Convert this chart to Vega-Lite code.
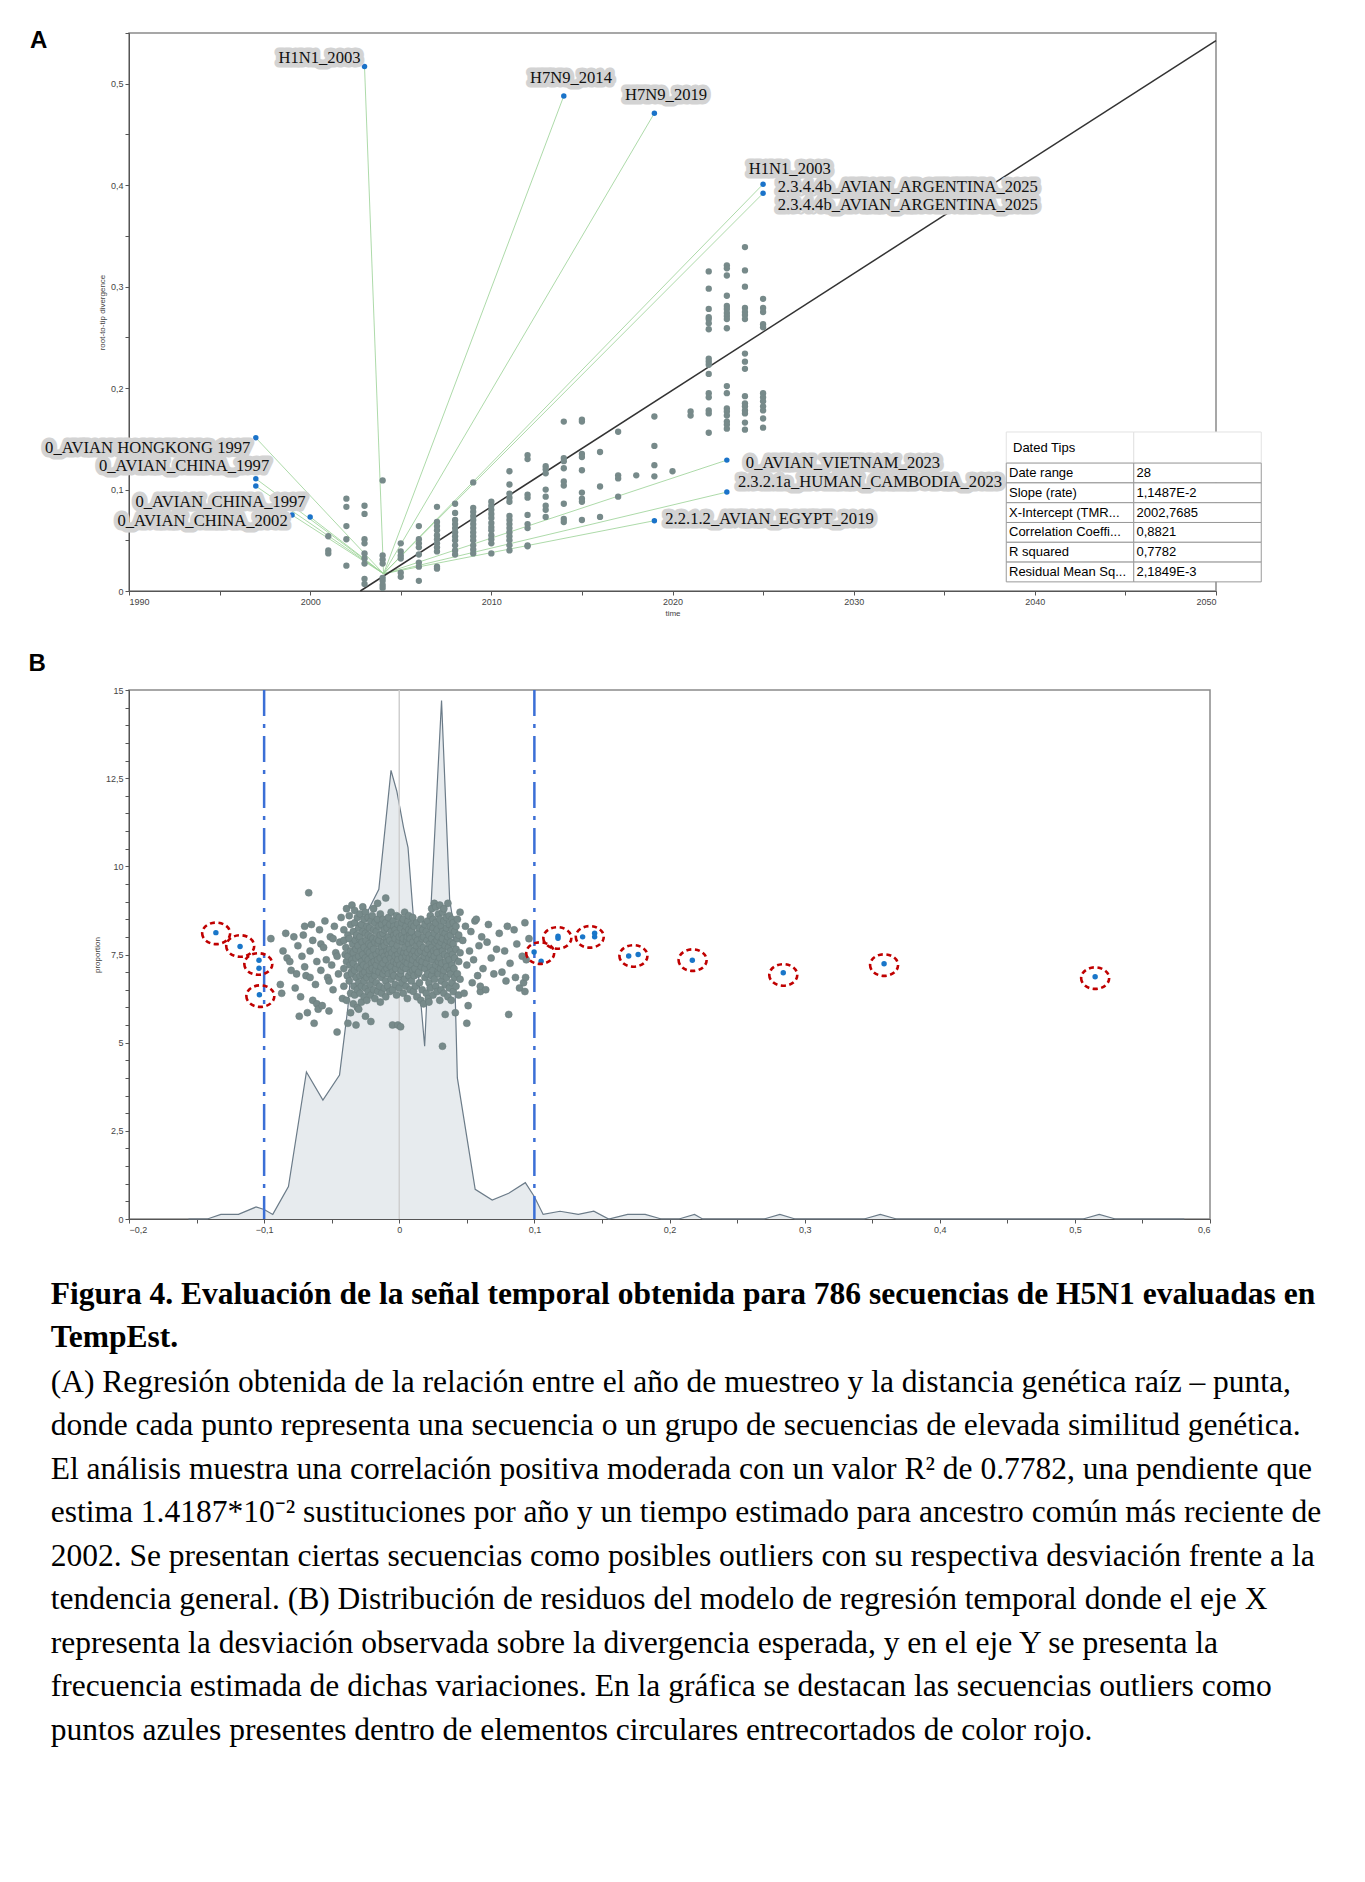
{
  "$schema": "https://vega.github.io/schema/vega-lite/v6.json",
  "background": "white",
  "padding": {"left": 27, "top": 28, "right": 5, "bottom": 5},
  "spacing": 33,
  "config": {
    "view": {"stroke": "#8a8a8a", "strokeWidth": 1.5},
    "axis": {"labelFont": "Liberation Sans", "labelFontSize": 9, "labelColor": "#444", "titleFont": "Liberation Sans", "titleFontSize": 8, "titleFontWeight": "normal", "titleColor": "#444", "tickColor": "#555", "domainColor": "#555", "grid": false, "tickSize": 4, "labelPadding": 2, "labelOverlap": false}
  },
  "title": {
    "text": ["Figura 4. Evaluación de la señal temporal obtenida para 786 secuencias de H5N1 evaluadas en", "TempEst."],
    "subtitle": [
      "(A) Regresión obtenida de la relación entre el año de muestreo y la distancia genética raíz – punta,",
      "donde cada punto representa una secuencia o un grupo de secuencias de elevada similitud genética.",
      "El análisis muestra una correlación positiva moderada con un valor R² de 0.7782, una pendiente que",
      "estima 1.4187*10⁻² sustituciones por año y un tiempo estimado para ancestro común más reciente de",
      "2002. Se presentan ciertas secuencias como posibles outliers con su respectiva desviación frente a la",
      "tendencia general. (B) Distribución de residuos del modelo de regresión temporal donde el eje X",
      "representa la desviación observada sobre la divergencia esperada, y en el eje Y se presenta la",
      "frecuencia estimada de dichas variaciones. En la gráfica se destacan las secuencias outliers como",
      "puntos azules presentes dentro de elementos circulares entrecortados de color rojo."
    ],
    "orient": "bottom", "anchor": "start", "frame": "bounds",
    "font": "Liberation Serif", "fontSize": 31.5, "fontWeight": "bold", "color": "black", "lineHeight": 43.5,
    "subtitleFont": "Liberation Serif", "subtitleFontSize": 31.5, "subtitleFontWeight": "normal", "subtitleColor": "black", "subtitleLineHeight": 43.5, "subtitlePadding": 13,
    "offset": 44, "dx": 23
  },
  "datasets": {
    "ptsA": [
      {"year":2001,"div":0.054},{"year":2001,"div":0.040},{"year":2001,"div":0.037},
      {"year":2002,"div":0.091},{"year":2002,"div":0.083},{"year":2002,"div":0.064},{"year":2002,"div":0.051},{"year":2002,"div":0.025},
      {"year":2003,"div":0.084},{"year":2003,"div":0.076},{"year":2003,"div":0.051},{"year":2003,"div":0.047},{"year":2003,"div":0.037},{"year":2003,"div":0.032},{"year":2003,"div":0.027},{"year":2003,"div":0.012},{"year":2003,"div":0.007},
      {"year":2004,"div":0.109},{"year":2004,"div":0.035},{"year":2004,"div":0.031},{"year":2004,"div":0.027},{"year":2004,"div":0.013},{"year":2004,"div":0.010},{"year":2004,"div":0.006},{"year":2004,"div":0.003},
      {"year":2005,"div":0.047},{"year":2005,"div":0.039},{"year":2005,"div":0.035},{"year":2005,"div":0.032},{"year":2005,"div":0.018},{"year":2005,"div":0.014},
      {"year":2006,"div":0.064},{"year":2006,"div":0.051},{"year":2006,"div":0.047},{"year":2006,"div":0.043},{"year":2006,"div":0.036},{"year":2006,"div":0.028},{"year":2006,"div":0.024},{"year":2006,"div":0.010},
      {"year":2007,"div":0.083},{"year":2007,"div":0.068},{"year":2007,"div":0.064},{"year":2007,"div":0.060},{"year":2007,"div":0.055},{"year":2007,"div":0.051},{"year":2007,"div":0.047},{"year":2007,"div":0.043},{"year":2007,"div":0.039},{"year":2007,"div":0.024},{"year":2007,"div":0.022},
      {"year":2008,"div":0.086},{"year":2008,"div":0.077},{"year":2008,"div":0.070},{"year":2008,"div":0.066},{"year":2008,"div":0.062},{"year":2008,"div":0.058},{"year":2008,"div":0.054},{"year":2008,"div":0.050},{"year":2008,"div":0.045},{"year":2008,"div":0.040},{"year":2008,"div":0.036},
      {"year":2009,"div":0.107},{"year":2009,"div":0.082},{"year":2009,"div":0.078},{"year":2009,"div":0.074},{"year":2009,"div":0.070},{"year":2009,"div":0.066},{"year":2009,"div":0.062},{"year":2009,"div":0.058},{"year":2009,"div":0.054},{"year":2009,"div":0.050},{"year":2009,"div":0.045},{"year":2009,"div":0.041},{"year":2009,"div":0.037},
      {"year":2010,"div":0.088},{"year":2010,"div":0.084},{"year":2010,"div":0.080},{"year":2010,"div":0.076},{"year":2010,"div":0.072},{"year":2010,"div":0.067},{"year":2010,"div":0.063},{"year":2010,"div":0.060},{"year":2010,"div":0.055},{"year":2010,"div":0.051},{"year":2010,"div":0.047},{"year":2010,"div":0.037},
      {"year":2011,"div":0.118},{"year":2011,"div":0.105},{"year":2011,"div":0.096},{"year":2011,"div":0.092},{"year":2011,"div":0.088},{"year":2011,"div":0.074},{"year":2011,"div":0.070},{"year":2011,"div":0.066},{"year":2011,"div":0.062},{"year":2011,"div":0.058},{"year":2011,"div":0.054},{"year":2011,"div":0.050},{"year":2011,"div":0.045},{"year":2011,"div":0.040},
      {"year":2012,"div":0.134},{"year":2012,"div":0.130},{"year":2012,"div":0.095},{"year":2012,"div":0.092},{"year":2012,"div":0.075},{"year":2012,"div":0.066},{"year":2012,"div":0.062},{"year":2012,"div":0.045},{"year":2012,"div":0.044},
      {"year":2013,"div":0.123},{"year":2013,"div":0.120},{"year":2013,"div":0.116},{"year":2013,"div":0.100},{"year":2013,"div":0.093},{"year":2013,"div":0.084},{"year":2013,"div":0.080},{"year":2013,"div":0.073},
      {"year":2014,"div":0.167},{"year":2014,"div":0.131},{"year":2014,"div":0.128},{"year":2014,"div":0.121},{"year":2014,"div":0.108},{"year":2014,"div":0.104},{"year":2014,"div":0.086},{"year":2014,"div":0.071},{"year":2014,"div":0.068},
      {"year":2015,"div":0.169},{"year":2015,"div":0.167},{"year":2015,"div":0.135},{"year":2015,"div":0.132},{"year":2015,"div":0.119},{"year":2015,"div":0.097},{"year":2015,"div":0.091},{"year":2015,"div":0.088},{"year":2015,"div":0.070},
      {"year":2016,"div":0.137},{"year":2016,"div":0.103},{"year":2016,"div":0.073},
      {"year":2017,"div":0.157},{"year":2017,"div":0.114},{"year":2017,"div":0.111},{"year":2017,"div":0.093},
      {"year":2018,"div":0.114},
      {"year":2019,"div":0.172},{"year":2019,"div":0.143},{"year":2019,"div":0.124},{"year":2019,"div":0.113},
      {"year":2020,"div":0.118},
      {"year":2021,"div":0.177},{"year":2021,"div":0.173},
      {"year":2022,"div":0.315},{"year":2022,"div":0.298},{"year":2022,"div":0.278},{"year":2022,"div":0.270},{"year":2022,"div":0.268},{"year":2022,"div":0.264},{"year":2022,"div":0.258},{"year":2022,"div":0.229},{"year":2022,"div":0.226},{"year":2022,"div":0.223},{"year":2022,"div":0.214},{"year":2022,"div":0.195},{"year":2022,"div":0.191},{"year":2022,"div":0.178},{"year":2022,"div":0.175},{"year":2022,"div":0.156},
      {"year":2023,"div":0.321},{"year":2023,"div":0.318},{"year":2023,"div":0.311},{"year":2023,"div":0.291},{"year":2023,"div":0.281},{"year":2023,"div":0.278},{"year":2023,"div":0.274},{"year":2023,"div":0.271},{"year":2023,"div":0.268},{"year":2023,"div":0.259},{"year":2023,"div":0.202},{"year":2023,"div":0.195},{"year":2023,"div":0.180},{"year":2023,"div":0.177},{"year":2023,"div":0.173},{"year":2023,"div":0.167},{"year":2023,"div":0.164},{"year":2023,"div":0.160},
      {"year":2024,"div":0.339},{"year":2024,"div":0.316},{"year":2024,"div":0.300},{"year":2024,"div":0.279},{"year":2024,"div":0.275},{"year":2024,"div":0.272},{"year":2024,"div":0.268},{"year":2024,"div":0.234},{"year":2024,"div":0.226},{"year":2024,"div":0.219},{"year":2024,"div":0.192},{"year":2024,"div":0.185},{"year":2024,"div":0.182},{"year":2024,"div":0.178},{"year":2024,"div":0.175},{"year":2024,"div":0.166},{"year":2024,"div":0.159},
      {"year":2025,"div":0.288},{"year":2025,"div":0.279},{"year":2025,"div":0.275},{"year":2025,"div":0.263},{"year":2025,"div":0.260},{"year":2025,"div":0.195},{"year":2025,"div":0.191},{"year":2025,"div":0.187},{"year":2025,"div":0.182},{"year":2025,"div":0.178},{"year":2025,"div":0.170},{"year":2025,"div":0.161}
    ],
    "outA": [
      {"year":2003.0,"div":0.517,"ryear":2004.05,"rdiv":0.017},
      {"year":2014.0,"div":0.488,"ryear":2004.05,"rdiv":0.017},
      {"year":2019.0,"div":0.471,"ryear":2004.05,"rdiv":0.017},
      {"year":2025.0,"div":0.401,"ryear":2004.05,"rdiv":0.017},
      {"year":2025.0,"div":0.392,"ryear":2004.05,"rdiv":0.017},
      {"year":2023.0,"div":0.129,"ryear":2004.05,"rdiv":0.017},
      {"year":2023.0,"div":0.0975,"ryear":2004.05,"rdiv":0.017},
      {"year":2019.0,"div":0.0693,"ryear":2004.05,"rdiv":0.017},
      {"year":1997.0,"div":0.151,"ryear":2004.05,"rdiv":0.017},
      {"year":1997.0,"div":0.1107,"ryear":2004.05,"rdiv":0.017},
      {"year":1997.0,"div":0.1034,"ryear":2004.05,"rdiv":0.017},
      {"year":1999.0,"div":0.0749,"ryear":2004.05,"rdiv":0.017},
      {"year":2000.0,"div":0.073,"ryear":2004.05,"rdiv":0.017}
    ],
    "labA": [
      {"text":"H1N1_2003","year":2002.78,"div":0.525,"side":"right"},
      {"text":"H7N9_2014","year":2012.13,"div":0.506,"side":"left"},
      {"text":"H7N9_2019","year":2017.38,"div":0.489,"side":"left"},
      {"text":"H1N1_2003","year":2024.21,"div":0.416,"side":"left"},
      {"text":"2.3.4.4b_AVIAN_ARGENTINA_2025","year":2025.81,"div":0.398,"side":"left"},
      {"text":"2.3.4.4b_AVIAN_ARGENTINA_2025","year":2025.81,"div":0.380,"side":"left"},
      {"text":"0_AVIAN_VIETNAM_2023","year":2024.05,"div":0.126,"side":"left"},
      {"text":"2.3.2.1a_HUMAN_CAMBODIA_2023","year":2023.61,"div":0.107,"side":"left"},
      {"text":"2.2.1.2_AVIAN_EGYPT_2019","year":2019.6,"div":0.071,"side":"left"},
      {"text":"0_AVIAN HONGKONG 1997","year":1996.7,"div":0.141,"side":"right"},
      {"text":"0_AVIAN_CHINA_1997","year":1997.74,"div":0.123,"side":"right"},
      {"text":"0_AVIAN_CHINA_1997","year":1999.75,"div":0.0877,"side":"right"},
      {"text":"0_AVIAN_CHINA_2002","year":1998.76,"div":0.069,"side":"right"}
    ],
    "regA": [{"year":2002.7685,"div":0},{"year":2050,"div":0.5426}],
    "tab": [
      {"row":0,"col":0,"t":"Dated Tips"},{"row":0,"col":1,"t":""},
      {"row":1,"col":0,"t":"Date range"},{"row":1,"col":1,"t":"28"},
      {"row":2,"col":0,"t":"Slope (rate)"},{"row":2,"col":1,"t":"1,1487E-2"},
      {"row":3,"col":0,"t":"X-Intercept (TMR..."},{"row":3,"col":1,"t":"2002,7685"},
      {"row":4,"col":0,"t":"Correlation Coeffi..."},{"row":4,"col":1,"t":"0,8821"},
      {"row":5,"col":0,"t":"R squared"},{"row":5,"col":1,"t":"0,7782"},
      {"row":6,"col":0,"t":"Residual Mean Sq..."},{"row":6,"col":1,"t":"2,1849E-3"}
    ],
    "dens": [
      {"r":-0.156,"p":0},{"r":-0.142,"p":0},{"r":-0.132,"p":0.13},{"r":-0.119,"p":0.13},{"r":-0.106,"p":0.34},{"r":-0.1,"p":0.27},{"r":-0.0936,"p":0.13},{"r":-0.082,"p":0.92},{"r":-0.0687,"p":4.17},{"r":-0.0565,"p":3.37},{"r":-0.0442,"p":4.08},{"r":-0.038,"p":6.0},{"r":-0.0333,"p":8.2},{"r":-0.025,"p":8.6},{"r":-0.0151,"p":9.35},{"r":-0.0061,"p":12.72},{"r":-0.0018,"p":12.13},{"r":0.0032,"p":11.1},{"r":0.0065,"p":10.53},{"r":0.0105,"p":8.54},{"r":0.0188,"p":4.9},{"r":0.0237,"p":9.02},{"r":0.0313,"p":14.7},{"r":0.0373,"p":9.05},{"r":0.040,"p":8.4},{"r":0.043,"p":4.0},{"r":0.0562,"p":0.84},{"r":0.0688,"p":0.54},{"r":0.081,"p":0.73},{"r":0.0933,"p":1.03},{"r":0.0999,"p":0.64},{"r":0.1065,"p":0.13},{"r":0.119,"p":0.22},{"r":0.1325,"p":0.13},{"r":0.144,"p":0.22},{"r":0.155,"p":0},{"r":0.169,"p":0.13},{"r":0.182,"p":0.13},{"r":0.194,"p":0},{"r":0.207,"p":0},{"r":0.2185,"p":0.13},{"r":0.2245,"p":0},{"r":0.27,"p":0},{"r":0.2817,"p":0.13},{"r":0.293,"p":0},{"r":0.344,"p":0},{"r":0.356,"p":0.13},{"r":0.368,"p":0},{"r":0.506,"p":0},{"r":0.518,"p":0.13},{"r":0.53,"p":0},{"r":0.581,"p":0}
    ],
    "cloud": [
      {"r":-0.095,"p":7.95},{"r":-0.088,"p":6.65},{"r":-0.087,"p":6.4},{"r":-0.086,"p":7.6},{"r":-0.084,"p":8.1},{"r":-0.083,"p":7.4},{"r":-0.081,"p":7.3},{"r":-0.08,"p":7.05},{"r":-0.078,"p":8.0},{"r":-0.077,"p":6.55},{"r":-0.076,"p":6.95},{"r":-0.075,"p":7.75},{"r":-0.074,"p":5.75},{"r":-0.073,"p":6.3},{"r":-0.072,"p":7.45},{"r":-0.071,"p":8.05},{"r":-0.07,"p":7.15},{"r":-0.07,"p":8.3},{"r":-0.069,"p":6.9},{"r":-0.068,"p":5.85},{"r":-0.067,"p":9.25},{"r":-0.066,"p":7.6},{"r":-0.066,"p":6.85},{"r":-0.065,"p":8.35},{"r":-0.064,"p":7.9},{"r":-0.064,"p":6.2},{"r":-0.063,"p":5.55},{"r":-0.062,"p":6.65},{"r":-0.061,"p":7.3},{"r":-0.061,"p":6.1},{"r":-0.06,"p":5.95},{"r":-0.059,"p":8.2},{"r":-0.058,"p":7.05},{"r":-0.058,"p":7.8},{"r":-0.057,"p":6.05},{"r":-0.056,"p":7.7},{"r":-0.055,"p":8.45},{"r":-0.054,"p":7.35},{"r":-0.053,"p":6.85},{"r":-0.052,"p":5.9},{"r":-0.052,"p":6.75},{"r":-0.051,"p":8.0},{"r":-0.05,"p":7.2},{"r":-0.049,"p":6.5},{"r":-0.049,"p":7.95},{"r":-0.048,"p":8.3},{"r":-0.047,"p":7.55},{"r":-0.046,"p":5.3},{"r":-0.046,"p":7.45},{"r":-0.045,"p":6.95},{"r":-0.044,"p":7.85},{"r":-0.043,"p":8.55},{"r":-0.042,"p":6.25},
      {"r":-0.041,"p":7.1},{"r":-0.041,"p":7.9},{"r":-0.041,"p":6.6},{"r":-0.041,"p":8.2},{"r":-0.04,"p":7.5},
      {"r":-0.039,"p":8.8},{"r":-0.039,"p":7.3},{"r":-0.039,"p":6.2},{"r":-0.0395,"p":7.7},{"r":-0.0385,"p":6.9},
      {"r":-0.038,"p":5.55},{"r":-0.038,"p":8.05},{"r":-0.038,"p":7.45},
      {"r":-0.037,"p":7.95},{"r":-0.037,"p":6.75},{"r":-0.037,"p":8.6},{"r":-0.0365,"p":7.2},
      {"r":-0.036,"p":6.4},{"r":-0.036,"p":7.6},{"r":-0.036,"p":8.35},{"r":-0.0355,"p":7.0},{"r":-0.036,"p":5.85},
      {"r":-0.035,"p":8.9},{"r":-0.035,"p":7.35},{"r":-0.035,"p":6.95},{"r":-0.0345,"p":7.8},
      {"r":-0.034,"p":6.1},{"r":-0.034,"p":7.55},{"r":-0.034,"p":8.15},{"r":-0.0335,"p":6.6},{"r":-0.034,"p":7.25},
      {"r":-0.033,"p":8.75},{"r":-0.033,"p":7.05},{"r":-0.033,"p":6.35},{"r":-0.0325,"p":7.9},{"r":-0.033,"p":8.4},
      {"r":-0.032,"p":5.5},{"r":-0.032,"p":7.65},{"r":-0.032,"p":6.85},{"r":-0.0315,"p":8.05},{"r":-0.032,"p":7.4},
      {"r":-0.031,"p":6.5},{"r":-0.031,"p":7.15},{"r":-0.031,"p":8.55},{"r":-0.0305,"p":7.75},{"r":-0.031,"p":6.0},
      {"r":-0.03,"p":8.25},{"r":-0.03,"p":7.45},{"r":-0.03,"p":6.7},{"r":-0.0295,"p":7.95},{"r":-0.03,"p":5.95},
      {"r":-0.029,"p":7.1},{"r":-0.029,"p":8.65},{"r":-0.029,"p":6.4},{"r":-0.0285,"p":7.6},{"r":-0.029,"p":8.0},{"r":-0.029,"p":6.9},
      {"r":-0.028,"p":7.3},{"r":-0.028,"p":6.15},{"r":-0.028,"p":8.35},{"r":-0.0275,"p":7.85},{"r":-0.028,"p":6.6},
      {"r":-0.027,"p":8.85},{"r":-0.027,"p":7.5},{"r":-0.027,"p":6.95},{"r":-0.0265,"p":7.2},{"r":-0.027,"p":8.15},
      {"r":-0.026,"p":6.3},{"r":-0.026,"p":7.7},{"r":-0.026,"p":8.5},{"r":-0.0255,"p":7.0},{"r":-0.026,"p":6.75},
      {"r":-0.025,"p":7.4},{"r":-0.025,"p":8.1},{"r":-0.025,"p":6.55},{"r":-0.0245,"p":7.9},{"r":-0.025,"p":5.75},{"r":-0.025,"p":8.7},
      {"r":-0.024,"p":7.15},{"r":-0.024,"p":6.85},{"r":-0.024,"p":8.3},{"r":-0.0235,"p":7.6},{"r":-0.024,"p":6.2},
      {"r":-0.023,"p":8.05},{"r":-0.023,"p":7.35},{"r":-0.023,"p":6.45},{"r":-0.0225,"p":7.8},{"r":-0.023,"p":8.55},
      {"r":-0.022,"p":6.95},{"r":-0.022,"p":7.55},{"r":-0.022,"p":8.25},{"r":-0.0215,"p":6.65},{"r":-0.022,"p":7.05},
      {"r":-0.021,"p":7.75},{"r":-0.021,"p":8.45},{"r":-0.021,"p":6.35},{"r":-0.0205,"p":7.25},{"r":-0.021,"p":8.0},{"r":-0.021,"p":5.6},
      {"r":-0.02,"p":7.45},{"r":-0.02,"p":6.8},{"r":-0.02,"p":8.6},{"r":-0.0195,"p":7.95},{"r":-0.02,"p":7.1},
      {"r":-0.019,"p":8.2},{"r":-0.019,"p":6.5},{"r":-0.019,"p":7.65},{"r":-0.0185,"p":7.3},{"r":-0.019,"p":8.8},
      {"r":-0.018,"p":6.9},{"r":-0.018,"p":7.85},{"r":-0.018,"p":8.4},{"r":-0.0175,"p":7.05},{"r":-0.018,"p":6.25},
      {"r":-0.017,"p":7.5},{"r":-0.017,"p":8.15},{"r":-0.017,"p":6.7},{"r":-0.0165,"p":7.95},{"r":-0.017,"p":7.2},
      {"r":-0.016,"p":8.5},{"r":-0.016,"p":7.35},{"r":-0.016,"p":6.45},{"r":-0.0155,"p":7.8},{"r":-0.016,"p":8.95},
      {"r":-0.015,"p":7.0},{"r":-0.015,"p":7.6},{"r":-0.015,"p":8.3},{"r":-0.0145,"p":6.6},{"r":-0.015,"p":7.9},
      {"r":-0.014,"p":6.15},{"r":-0.014,"p":7.4},{"r":-0.014,"p":8.05},{"r":-0.0135,"p":7.15},{"r":-0.014,"p":8.65},
      {"r":-0.013,"p":7.7},{"r":-0.013,"p":6.85},{"r":-0.013,"p":8.35},{"r":-0.0125,"p":7.55},{"r":-0.013,"p":6.4},
      {"r":-0.012,"p":8.1},{"r":-0.012,"p":7.25},{"r":-0.012,"p":6.95},{"r":-0.0115,"p":7.85},{"r":-0.012,"p":8.5},
      {"r":-0.011,"p":6.55},{"r":-0.011,"p":7.45},{"r":-0.011,"p":8.2},{"r":-0.0105,"p":7.05},{"r":-0.011,"p":7.75},
      {"r":-0.01,"p":8.4},{"r":-0.01,"p":6.75},{"r":-0.01,"p":7.35},{"r":-0.0095,"p":7.95},{"r":-0.01,"p":6.3},{"r":-0.01,"p":9.1},
      {"r":-0.009,"p":7.6},{"r":-0.009,"p":8.25},{"r":-0.009,"p":7.1},{"r":-0.0085,"p":6.6},{"r":-0.009,"p":7.85},
      {"r":-0.008,"p":6.95},{"r":-0.008,"p":7.5},{"r":-0.008,"p":8.55},{"r":-0.0075,"p":7.2},{"r":-0.008,"p":8.0},
      {"r":-0.007,"p":8.35},{"r":-0.007,"p":7.65},{"r":-0.007,"p":6.45},{"r":-0.0065,"p":7.4},{"r":-0.007,"p":7.9},
      {"r":-0.006,"p":7.15},{"r":-0.006,"p":8.15},{"r":-0.006,"p":6.8},{"r":-0.0055,"p":7.55},{"r":-0.006,"p":8.7},
      {"r":-0.005,"p":5.5},{"r":-0.005,"p":7.8},{"r":-0.005,"p":7.0},{"r":-0.0045,"p":8.45},{"r":-0.005,"p":6.5},
      {"r":-0.004,"p":7.3},{"r":-0.004,"p":8.05},{"r":-0.004,"p":6.9},{"r":-0.0035,"p":7.65},{"r":-0.004,"p":8.3},
      {"r":-0.003,"p":6.65},{"r":-0.003,"p":7.45},{"r":-0.003,"p":8.2},{"r":-0.0025,"p":7.1},{"r":-0.003,"p":7.95},
      {"r":-0.002,"p":8.6},{"r":-0.002,"p":7.25},{"r":-0.002,"p":6.35},{"r":-0.0015,"p":7.75},{"r":-0.002,"p":8.1},
      {"r":-0.001,"p":5.5},{"r":-0.001,"p":7.5},{"r":-0.001,"p":8.35},{"r":-0.0005,"p":6.85},{"r":-0.001,"p":7.35},
      {"r":0.0,"p":7.9},{"r":0.0,"p":6.55},{"r":0.0,"p":8.0},{"r":0.0005,"p":7.2},{"r":0.0,"p":8.55},
      {"r":0.001,"p":7.6},{"r":0.001,"p":6.95},{"r":0.001,"p":8.25},{"r":0.0015,"p":7.05},{"r":0.001,"p":5.45},
      {"r":0.002,"p":8.4},{"r":0.002,"p":7.4},{"r":0.002,"p":6.7},{"r":0.0025,"p":7.85},{"r":0.002,"p":8.05},
      {"r":0.003,"p":7.15},{"r":0.003,"p":8.5},{"r":0.003,"p":6.4},{"r":0.0035,"p":7.55},{"r":0.003,"p":7.95},
      {"r":0.004,"p":6.8},{"r":0.004,"p":7.7},{"r":0.004,"p":8.15},{"r":0.0045,"p":7.3},{"r":0.004,"p":8.7},
      {"r":0.005,"p":7.45},{"r":0.005,"p":8.3},{"r":0.005,"p":6.6},{"r":0.0055,"p":7.9},{"r":0.005,"p":7.1},
      {"r":0.006,"p":8.0},{"r":0.006,"p":6.25},{"r":0.006,"p":7.55},{"r":0.0065,"p":8.45},{"r":0.006,"p":7.25},
      {"r":0.007,"p":7.8},{"r":0.007,"p":6.9},{"r":0.007,"p":8.2},{"r":0.0075,"p":7.4},{"r":0.007,"p":8.6},
      {"r":0.008,"p":6.5},{"r":0.008,"p":7.65},{"r":0.008,"p":8.05},{"r":0.0085,"p":7.0},{"r":0.008,"p":7.95},
      {"r":0.009,"p":8.35},{"r":0.009,"p":7.2},{"r":0.009,"p":6.75},{"r":0.0095,"p":7.5},{"r":0.009,"p":8.15},
      {"r":0.01,"p":7.05},{"r":0.01,"p":7.85},{"r":0.01,"p":8.55},{"r":0.0105,"p":6.45},{"r":0.01,"p":7.35},
      {"r":0.011,"p":7.6},{"r":0.011,"p":8.3},{"r":0.011,"p":6.9},{"r":0.0115,"p":7.1},
      {"r":0.012,"p":8.0},{"r":0.012,"p":7.45},{"r":0.012,"p":6.6},{"r":0.0125,"p":7.75},
      {"r":0.013,"p":6.3},{"r":0.013,"p":7.25},{"r":0.013,"p":8.4},{"r":0.0135,"p":7.9},
      {"r":0.014,"p":7.55},{"r":0.014,"p":6.95},{"r":0.014,"p":8.1},{"r":0.0145,"p":7.0},
      {"r":0.015,"p":8.25},{"r":0.015,"p":7.35},{"r":0.015,"p":6.7},{"r":0.0155,"p":7.8},
      {"r":0.016,"p":6.2},{"r":0.016,"p":7.6},{"r":0.016,"p":8.5},{"r":0.0165,"p":7.15},
      {"r":0.017,"p":7.95},{"r":0.017,"p":6.5},{"r":0.017,"p":7.3},{"r":0.0175,"p":8.2},
      {"r":0.018,"p":6.1},{"r":0.018,"p":7.7},{"r":0.018,"p":8.0},{"r":0.0185,"p":7.45},
      {"r":0.019,"p":8.35},{"r":0.019,"p":7.1},{"r":0.019,"p":6.85},{"r":0.0195,"p":7.55},
      {"r":0.02,"p":7.25},{"r":0.02,"p":8.15},{"r":0.02,"p":6.4},{"r":0.0205,"p":7.9},
      {"r":0.021,"p":6.95},{"r":0.021,"p":7.65},{"r":0.021,"p":8.45},{"r":0.0215,"p":6.25},
      {"r":0.022,"p":8.05},{"r":0.022,"p":7.4},{"r":0.022,"p":6.7},{"r":0.0225,"p":7.8},{"r":0.022,"p":6.15},
      {"r":0.023,"p":7.15},{"r":0.023,"p":8.6},{"r":0.023,"p":6.55},{"r":0.0235,"p":7.5},{"r":0.023,"p":8.3},
      {"r":0.024,"p":8.8},{"r":0.024,"p":7.95},{"r":0.024,"p":6.9},{"r":0.0245,"p":7.35},{"r":0.024,"p":7.7},
      {"r":0.025,"p":7.05},{"r":0.025,"p":8.25},{"r":0.025,"p":6.35},{"r":0.0255,"p":7.6},{"r":0.025,"p":8.5},
      {"r":0.026,"p":8.95},{"r":0.026,"p":7.45},{"r":0.026,"p":6.8},{"r":0.0265,"p":7.85},{"r":0.026,"p":8.1},
      {"r":0.027,"p":7.2},{"r":0.027,"p":8.4},{"r":0.027,"p":6.6},{"r":0.0275,"p":7.65},{"r":0.027,"p":8.85},
      {"r":0.028,"p":6.45},{"r":0.028,"p":7.55},{"r":0.028,"p":8.2},{"r":0.0285,"p":7.0},{"r":0.028,"p":7.9},
      {"r":0.029,"p":8.65},{"r":0.029,"p":7.3},{"r":0.029,"p":6.95},{"r":0.0295,"p":7.75},{"r":0.029,"p":8.0},
      {"r":0.03,"p":7.4},{"r":0.03,"p":8.5},{"r":0.03,"p":6.2},{"r":0.0305,"p":7.1},{"r":0.03,"p":8.9},
      {"r":0.031,"p":6.75},{"r":0.031,"p":7.85},{"r":0.031,"p":8.3},{"r":0.0315,"p":7.25},{"r":0.031,"p":6.5},
      {"r":0.032,"p":4.9},{"r":0.032,"p":7.6},{"r":0.032,"p":8.7},{"r":0.0325,"p":6.9},{"r":0.032,"p":7.95},{"r":0.032,"p":8.15},
      {"r":0.033,"p":7.05},{"r":0.033,"p":8.45},{"r":0.033,"p":6.4},{"r":0.0335,"p":7.5},{"r":0.033,"p":8.8},
      {"r":0.034,"p":7.75},{"r":0.034,"p":6.65},{"r":0.034,"p":8.1},{"r":0.0345,"p":7.3},{"r":0.034,"p":5.8},
      {"r":0.035,"p":8.55},{"r":0.035,"p":7.15},{"r":0.035,"p":6.85},{"r":0.0355,"p":7.9},{"r":0.035,"p":8.25},
      {"r":0.036,"p":6.3},{"r":0.036,"p":7.45},{"r":0.036,"p":8.0},{"r":0.0365,"p":7.7},{"r":0.036,"p":8.95},
      {"r":0.037,"p":7.35},{"r":0.037,"p":8.35},{"r":0.037,"p":6.55},{"r":0.0375,"p":7.05},{"r":0.037,"p":8.6},
      {"r":0.038,"p":8.05},{"r":0.038,"p":6.95},{"r":0.038,"p":7.6},{"r":0.0385,"p":6.2},{"r":0.038,"p":7.85},
      {"r":0.039,"p":7.2},{"r":0.039,"p":8.5},{"r":0.039,"p":6.7},{"r":0.0395,"p":7.5},{"r":0.039,"p":8.2},
      {"r":0.04,"p":6.45},{"r":0.04,"p":7.8},{"r":0.04,"p":8.4},{"r":0.0405,"p":7.1},
      {"r":0.041,"p":8.15},{"r":0.041,"p":6.85},{"r":0.041,"p":7.4},{"r":0.0415,"p":5.85},
      {"r":0.042,"p":7.65},{"r":0.042,"p":8.3},{"r":0.042,"p":6.6},
      {"r":0.043,"p":6.95},{"r":0.043,"p":7.95},{"r":0.043,"p":8.5},
      {"r":0.044,"p":7.3},{"r":0.044,"p":6.35},{"r":0.044,"p":8.05},
      {"r":0.045,"p":8.7},{"r":0.045,"p":7.55},{"r":0.045,"p":6.8},
      {"r":0.047,"p":7.9},{"r":0.048,"p":6.4},{"r":0.049,"p":8.3},{"r":0.05,"p":7.2},{"r":0.05,"p":5.55},{"r":0.051,"p":6.05},{"r":0.052,"p":7.6},{"r":0.053,"p":8.15},{"r":0.054,"p":6.7},{"r":0.055,"p":7.35},{"r":0.056,"p":8.45},{"r":0.057,"p":8.5},{"r":0.058,"p":6.9},{"r":0.059,"p":7.75},{"r":0.06,"p":6.45},{"r":0.06,"p":6.6},{"r":0.061,"p":8.0},{"r":0.062,"p":7.1},{"r":0.064,"p":6.5},{"r":0.065,"p":7.85},{"r":0.066,"p":8.35},{"r":0.068,"p":7.4},{"r":0.07,"p":6.95},{"r":0.072,"p":7.65},{"r":0.074,"p":8.1},{"r":0.076,"p":7.0},{"r":0.078,"p":7.6},{"r":0.079,"p":6.75},{"r":0.08,"p":8.3},{"r":0.081,"p":5.8},{"r":0.082,"p":7.25},{"r":0.085,"p":8.2},{"r":0.086,"p":6.85},{"r":0.087,"p":7.8},{"r":0.089,"p":6.55},{"r":0.091,"p":7.45},{"r":0.092,"p":6.7},{"r":0.093,"p":6.45},{"r":0.093,"p":8.4},{"r":0.0935,"p":6.85},{"r":0.094,"p":7.35},{"r":0.096,"p":7.95}
    ],
    "outB": [
      {"r":-0.1357,"p":8.12},{"r":-0.1178,"p":7.73},{"r":-0.1038,"p":7.34},{"r":-0.1038,"p":7.11},{"r":-0.1035,"p":6.36},{"r":0.0998,"p":7.57},{"r":0.105,"p":7.31},{"r":0.1175,"p":8.02},{"r":0.1175,"p":7.96},{"r":0.1357,"p":8.0},{"r":0.1446,"p":8.1},{"r":0.1446,"p":8.0},{"r":0.1698,"p":7.46},{"r":0.1768,"p":7.5},{"r":0.2169,"p":7.34},{"r":0.2842,"p":6.98},{"r":0.3588,"p":7.24},{"r":0.515,"p":6.87}
    ],
    "circ": [
      {"r":-0.1355,"p":8.1},{"r":-0.1177,"p":7.74},{"r":-0.1043,"p":7.23},{"r":-0.1028,"p":6.32},{"r":0.1043,"p":7.54},{"r":0.117,"p":7.97},{"r":0.141,"p":8.0},{"r":0.1733,"p":7.46},{"r":0.2171,"p":7.34},{"r":0.2842,"p":6.92},{"r":0.3588,"p":7.2},{"r":0.515,"p":6.83}
    ]
  },
  "vconcat": [
    {
      "width": 1087,
      "height": 558,
      "title": {"text": "A", "anchor": "start", "frame": "bounds", "font": "Liberation Sans", "fontSize": 24, "fontWeight": "bold", "color": "black", "offset": 0, "dx": -15, "dy": 24},
      "resolve": {"scale": {"x": "independent", "y": "independent"}},
      "layer": [
        {
          "encoding": {
            "x": {"field": "year", "type": "quantitative", "scale": {"domain": [1990, 2050], "nice": false, "zero": false},
                  "axis": {"title": "time", "values": [1990,1995,2000,2005,2010,2015,2020,2025,2030,2035,2040,2045,2050], "format": "d", "labelExpr": "datum.value % 10 == 0 ? datum.label : ''", "titlePadding": 3, "labelOverlap": false}},
            "y": {"field": "div", "type": "quantitative", "scale": {"domain": [0, 0.55], "nice": false, "zero": false},
                  "axis": {"title": "root-to-tip divergence", "values": [0,0.05,0.1,0.15,0.2,0.25,0.3,0.35,0.4,0.45,0.5,0.55], "labelExpr": "round(datum.value*100) % 10 == 0 ? replace(format(datum.value, '.1~f'), '.', ',') : ''", "titlePadding": 4, "labelOverlap": false}}
          },
          "layer": [
            {"data": {"name": "outA"}, "mark": {"type": "rule", "color": "#9fd49a", "strokeWidth": 1, "opacity": 0.85}, "encoding": {"x2": {"field": "ryear"}, "y2": {"field": "rdiv"}}},
            {"data": {"name": "regA"}, "mark": {"type": "line", "color": "#333333", "strokeWidth": 1.5}, "encoding": {}},
            {"data": {"name": "ptsA"}, "mark": {"type": "circle", "color": "#778a8a", "size": 40, "opacity": 1}, "encoding": {}},
            {"data": {"name": "outA"}, "mark": {"type": "circle", "color": "#1a73c9", "size": 30, "opacity": 1}, "encoding": {}},
            {"data": {"name": "labA"}, "transform": [{"filter": "datum.side == 'left'"}], "mark": {"type": "text", "align": "left", "baseline": "middle", "font": "Liberation Serif", "fontSize": 16.6, "color": "#d3d3d3", "stroke": "#d3d3d3", "strokeWidth": 9, "strokeJoin": "round"}, "encoding": {"text": {"field": "text"}}},
            {"data": {"name": "labA"}, "transform": [{"filter": "datum.side == 'right'"}], "mark": {"type": "text", "align": "right", "baseline": "middle", "font": "Liberation Serif", "fontSize": 16.6, "color": "#d3d3d3", "stroke": "#d3d3d3", "strokeWidth": 9, "strokeJoin": "round"}, "encoding": {"text": {"field": "text"}}},
            {"data": {"name": "labA"}, "transform": [{"filter": "datum.side == 'left'"}], "mark": {"type": "text", "align": "left", "baseline": "middle", "font": "Liberation Serif", "fontSize": 16.6, "color": "#111111"}, "encoding": {"text": {"field": "text"}}},
            {"data": {"name": "labA"}, "transform": [{"filter": "datum.side == 'right'"}], "mark": {"type": "text", "align": "right", "baseline": "middle", "font": "Liberation Serif", "fontSize": 16.6, "color": "#111111"}, "encoding": {"text": {"field": "text"}}}
          ]
        },
        {
          "data": {"name": "tab"},
          "encoding": {
            "x": {"field": "col", "type": "quantitative", "scale": {"domain": [-7.38, 1.145], "nice": false, "zero": false}, "axis": null},
            "y": {"field": "row", "type": "quantitative", "scale": {"domain": [-21.22, 6.96], "nice": false, "zero": false, "reverse": true}, "axis": null}
          },
          "layer": [
            {"transform": [{"filter": "datum.row == 0"}], "mark": {"type": "point", "shape": "M-1,-0.3325H1V0.1537H-1Z", "size": 16256, "filled": true, "fill": "white", "stroke": "#e2e2e2", "strokeWidth": 1, "opacity": 1}},
            {"transform": [{"filter": "datum.row > 0"}], "mark": {"type": "point", "shape": "M-1,-0.155H1V0.155H-1Z", "size": 16256, "filled": true, "fill": "white", "stroke": "#9a9a9a", "strokeWidth": 1, "opacity": 1}},
            {"transform": [{"filter": "datum.row == 0"}], "mark": {"type": "text", "align": "left", "baseline": "middle", "dx": -57, "dy": -5, "font": "Liberation Sans", "fontSize": 13, "color": "black"}, "encoding": {"text": {"field": "t"}}},
            {"transform": [{"filter": "datum.row > 0"}], "mark": {"type": "text", "align": "left", "baseline": "middle", "dx": -61, "font": "Liberation Sans", "fontSize": 13, "color": "black"}, "encoding": {"text": {"field": "t"}}}
          ]
        }
      ]
    },
    {
      "width": 1081,
      "height": 529,
      "title": {"text": "B", "anchor": "start", "frame": "bounds", "font": "Liberation Sans", "fontSize": 24, "fontWeight": "bold", "color": "black", "offset": 0, "dx": -65, "dy": -10},
      "layer": [
        {"data": {"name": "dens"}, "mark": {"type": "area", "color": "#e7ebee", "opacity": 1, "line": {"color": "#6b7b88", "strokeWidth": 1.2}},
         "encoding": {
           "x": {"field": "r", "type": "quantitative", "scale": {"domain": [-0.2, 0.6], "nice": false, "zero": false},
                 "axis": {"title": null, "values": [-0.2,-0.15,-0.1,-0.05,0,0.05,0.1,0.15,0.2,0.25,0.3,0.35,0.4,0.45,0.5,0.55,0.6], "labelExpr": "abs(round(datum.value*100) % 10) == 0 ? replace(format(datum.value, '.1~f'), '.', ',') : ''", "labelOverlap": false}},
           "y": {"field": "p", "type": "quantitative", "scale": {"domain": [0, 15], "nice": false, "zero": false},
                 "axis": {"title": "proportion", "values": [0,0.5,1,1.5,2,2.5,3,3.5,4,4.5,5,5.5,6,6.5,7,7.5,8,8.5,9,9.5,10,10.5,11,11.5,12,12.5,13,13.5,14,14.5,15], "labelExpr": "round(datum.value*2) % 5 == 0 ? replace(format(datum.value, '.1~f'), '.', ',') : ''", "titlePadding": 4, "labelOverlap": false}}
         }},
        {"data": {"values": [{"r": 0}]}, "mark": {"type": "rule", "color": "#cfcfcf", "strokeWidth": 1.5},
         "encoding": {"x": {"field": "r", "type": "quantitative", "scale": {"domain": [-0.2, 0.6], "nice": false, "zero": false},
                 "axis": {"title": null, "values": [-0.2,-0.15,-0.1,-0.05,0,0.05,0.1,0.15,0.2,0.25,0.3,0.35,0.4,0.45,0.5,0.55,0.6], "labelExpr": "abs(round(datum.value*100) % 10) == 0 ? replace(format(datum.value, '.1~f'), '.', ',') : ''", "labelOverlap": false}}}},
        {"data": {"name": "cloud"}, "mark": {"type": "circle", "color": "#778a8a", "size": 50, "opacity": 1, "stroke": "#6a7c7c", "strokeWidth": 0.5},
         "encoding": {
           "x": {"field": "r", "type": "quantitative", "scale": {"domain": [-0.2, 0.6], "nice": false, "zero": false},
                 "axis": {"title": null, "values": [-0.2,-0.15,-0.1,-0.05,0,0.05,0.1,0.15,0.2,0.25,0.3,0.35,0.4,0.45,0.5,0.55,0.6], "labelExpr": "abs(round(datum.value*100) % 10) == 0 ? replace(format(datum.value, '.1~f'), '.', ',') : ''", "labelOverlap": false}},
           "y": {"field": "p", "type": "quantitative", "scale": {"domain": [0, 15], "nice": false, "zero": false},
                 "axis": {"title": "proportion", "values": [0,0.5,1,1.5,2,2.5,3,3.5,4,4.5,5,5.5,6,6.5,7,7.5,8,8.5,9,9.5,10,10.5,11,11.5,12,12.5,13,13.5,14,14.5,15], "labelExpr": "round(datum.value*2) % 5 == 0 ? replace(format(datum.value, '.1~f'), '.', ',') : ''", "titlePadding": 4, "labelOverlap": false}}
         }},
        {"data": {"values": [{"r": -0.1}, {"r": 0.1}]}, "mark": {"type": "rule", "color": "#3b6fd6", "strokeWidth": 2.5, "strokeDash": [26, 8, 4, 8]},
         "encoding": {"x": {"field": "r", "type": "quantitative", "scale": {"domain": [-0.2, 0.6], "nice": false, "zero": false},
                 "axis": {"title": null, "values": [-0.2,-0.15,-0.1,-0.05,0,0.05,0.1,0.15,0.2,0.25,0.3,0.35,0.4,0.45,0.5,0.55,0.6], "labelExpr": "abs(round(datum.value*100) % 10) == 0 ? replace(format(datum.value, '.1~f'), '.', ',') : ''", "labelOverlap": false}}}},
        {"data": {"name": "outB"}, "mark": {"type": "circle", "color": "#1976c9", "size": 30, "opacity": 1},
         "encoding": {
           "x": {"field": "r", "type": "quantitative", "scale": {"domain": [-0.2, 0.6], "nice": false, "zero": false},
                 "axis": {"title": null, "values": [-0.2,-0.15,-0.1,-0.05,0,0.05,0.1,0.15,0.2,0.25,0.3,0.35,0.4,0.45,0.5,0.55,0.6], "labelExpr": "abs(round(datum.value*100) % 10) == 0 ? replace(format(datum.value, '.1~f'), '.', ',') : ''", "labelOverlap": false}},
           "y": {"field": "p", "type": "quantitative", "scale": {"domain": [0, 15], "nice": false, "zero": false},
                 "axis": {"title": "proportion", "values": [0,0.5,1,1.5,2,2.5,3,3.5,4,4.5,5,5.5,6,6.5,7,7.5,8,8.5,9,9.5,10,10.5,11,11.5,12,12.5,13,13.5,14,14.5,15], "labelExpr": "round(datum.value*2) % 5 == 0 ? replace(format(datum.value, '.1~f'), '.', ',') : ''", "titlePadding": 4, "labelOverlap": false}}
         }},
        {"data": {"name": "circ"}, "mark": {"type": "point", "shape": "M-1,0A1,0.77,0,1,0,1,0A1,0.77,0,1,0,-1,0Z", "size": 784, "filled": false, "stroke": "#c00000", "strokeWidth": 2.6, "strokeDash": [5, 3.5], "opacity": 1},
         "encoding": {
           "x": {"field": "r", "type": "quantitative", "scale": {"domain": [-0.2, 0.6], "nice": false, "zero": false},
                 "axis": {"title": null, "values": [-0.2,-0.15,-0.1,-0.05,0,0.05,0.1,0.15,0.2,0.25,0.3,0.35,0.4,0.45,0.5,0.55,0.6], "labelExpr": "abs(round(datum.value*100) % 10) == 0 ? replace(format(datum.value, '.1~f'), '.', ',') : ''", "labelOverlap": false}},
           "y": {"field": "p", "type": "quantitative", "scale": {"domain": [0, 15], "nice": false, "zero": false},
                 "axis": {"title": "proportion", "values": [0,0.5,1,1.5,2,2.5,3,3.5,4,4.5,5,5.5,6,6.5,7,7.5,8,8.5,9,9.5,10,10.5,11,11.5,12,12.5,13,13.5,14,14.5,15], "labelExpr": "round(datum.value*2) % 5 == 0 ? replace(format(datum.value, '.1~f'), '.', ',') : ''", "titlePadding": 4, "labelOverlap": false}}
         }}
      ]
    }
  ]
}
